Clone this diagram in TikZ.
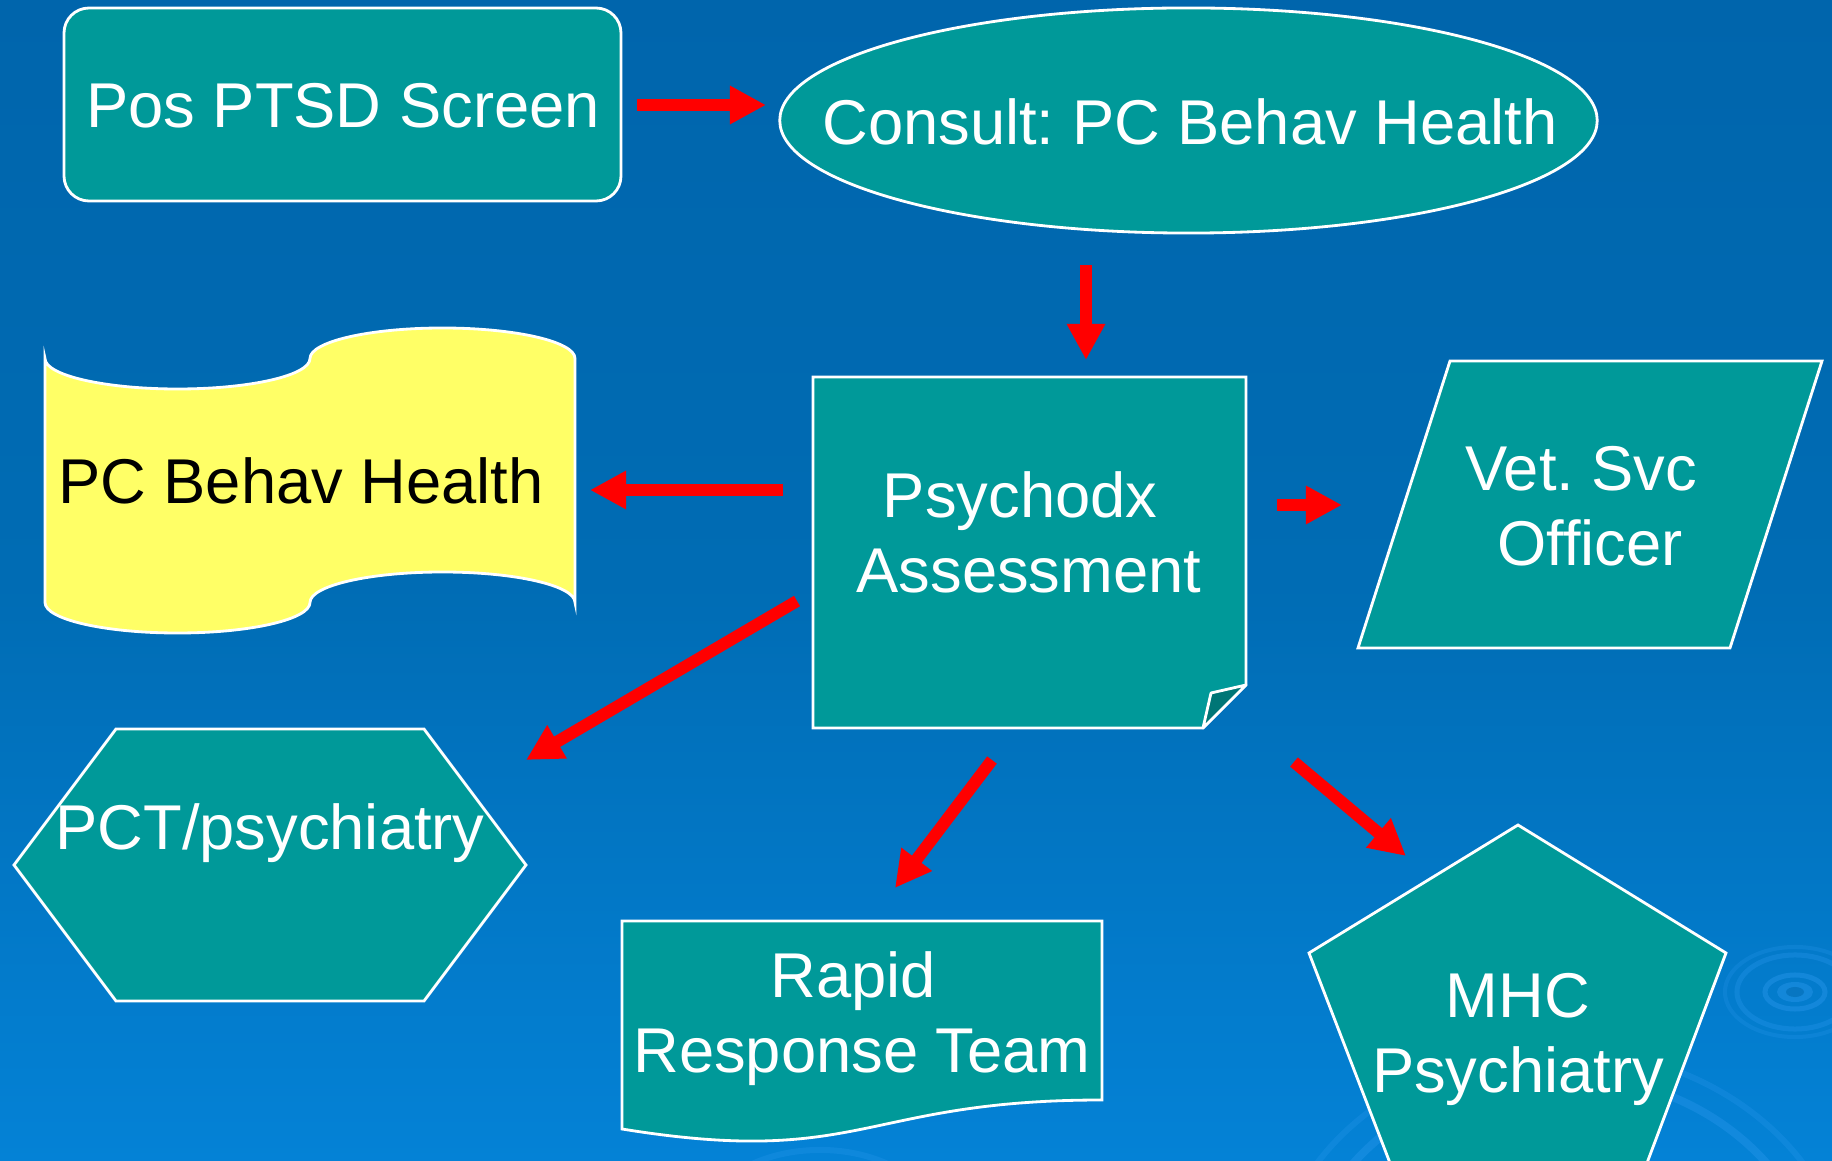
\documentclass[tikz,border=0pt]{standalone}
\usepackage{fontspec}
\setmainfont{Liberation Sans}
\usetikzlibrary{arrows.meta}
\definecolor{bgtop}{RGB}{0,101,172}
\definecolor{bgmid}{RGB}{0,108,180}
\definecolor{bgbot}{RGB}{4,130,214}
\definecolor{tealf}{RGB}{0,153,153}
\definecolor{tealdark}{RGB}{0,118,118}
\definecolor{tapeyellow}{RGB}{255,255,102}
\definecolor{ripple}{RGB}{40,150,235}
\frenchspacing
\begin{document}
\begin{tikzpicture}[x=0.01cm,y=-0.01cm,
  shapebox/.style={draw=white, line width=0.8pt, fill=tealf},
  lbl/.style={text=white, font=\fontsize{18}{21.6}\selectfont\frenchspacing, align=center, inner sep=0pt},
  redarrow/.style={color=red, line width=0.12cm, -{Triangle[length=0.36cm,width=0.36cm]}}
]
\useasboundingbox (0,0) rectangle (1832,1161);
\clip (0,0) rectangle (1832,1161);
% background
\shade[top color=bgtop, bottom color=bgbot, middle color=bgmid] (0,0) rectangle (1832,1161);
% ripples
\fill[ripple, opacity=0.45] (1795,992) ellipse [x radius=0.18cm, y radius=0.10cm];
\fill[bgmid, opacity=0.6] (1795,992) ellipse [x radius=0.09cm, y radius=0.05cm];
\draw[ripple, opacity=0.45, line width=0.05cm] (1795,992) ellipse [x radius=0.30cm, y radius=0.17cm];
\draw[ripple, opacity=0.35, line width=0.05cm] (1795,992) ellipse [x radius=0.58cm, y radius=0.37cm];
\draw[ripple, opacity=0.25, line width=0.04cm] (1795,992) ellipse [x radius=0.70cm, y radius=0.45cm];
\draw[ripple, opacity=0.40, line width=0.08cm] (1560,1300) ellipse [x radius=2.6cm, y radius=2.25cm];
\draw[ripple, opacity=0.30, line width=0.06cm] (1560,1300) ellipse [x radius=2.9cm, y radius=2.5cm];
\draw[ripple, opacity=0.30, line width=0.06cm] (820,1230) ellipse [x radius=1.2cm, y radius=0.8cm];

% shapes
\draw[shapebox, rounded corners=0.25cm] (64,8) rectangle (621,201);
\draw[shapebox] (1188.5,120.5) ellipse [x radius=4.085cm, y radius=1.125cm];
\draw[shapebox] (813,377) -- (1246,377) -- (1246,685) -- (1203,728) -- (813,728) -- cycle;
\draw[draw=white, line width=0.8pt, fill=tealdark, line join=round] (1246,685) -- (1211,693) -- (1203,728) -- cycle;
\draw[draw=white, line width=0.8pt, fill=tapeyellow]
  (45,358.5) .. controls (45,375.3) and (104.3,389) .. (177.5,389)
  .. controls (250.7,389) and (310,375.3) .. (310,358.5)
  .. controls (310,341.7) and (369.3,328) .. (442.5,328)
  .. controls (515.7,328) and (575,341.7) .. (575,358.5)
  -- (575,602.5)
  .. controls (575,585.7) and (515.7,572) .. (442.5,572)
  .. controls (369.3,572) and (310,585.7) .. (310,602.5)
  .. controls (310,619.3) and (250.7,633) .. (177.5,633)
  .. controls (104.3,633) and (45,619.3) .. (45,602.5) -- cycle;
\draw[shapebox] (1450,361) -- (1822,361) -- (1730,648) -- (1358,648) -- cycle;
\draw[shapebox] (14,865) -- (116,729) -- (424,729) -- (526,865) -- (424,1001) -- (116,1001) -- cycle;
\draw[shapebox] (622,921) -- (1102,921) -- (1102,1100) .. controls (862,1100) and (862,1168) .. (622,1129) -- cycle;
\draw[shapebox] (1518,825) -- (1726,953) -- (1647,1163) -- (1390,1163) -- (1309,953) -- cycle;

% labels
\node[lbl] (pos) at (343,112.8) {\strut Pos PTSD Screen\strut};
\node[lbl] (cons) at (1190,129.8) {\strut Consult: PC Behav Health\strut};
\node[lbl, text=black] (pcb) at (301,488.8) {\strut PC Behav Health\strut};
\node[lbl] (psy) at (1029,539.8) {\strut Psychodx\rule{0.278em}{0pt}\\Assessment\strut};
\node[lbl] (vet) at (1590,512.8) {\strut Vet. Svc\rule{0.278em}{0pt}\\Officer\strut};
\node[lbl] (pct) at (270,834.8) {\strut PCT/psychiatry\strut};
\node[lbl] (rrt) at (862,1019.8) {\strut Rapid\rule{0.278em}{0pt}\\Response Team\strut};
\node[lbl] (mhc) at (1518,1039.8) {\strut MHC\\Psychiatry\strut};

% arrow end points
\coordinate (a1s) at (637,105);  \coordinate (a1e) at (766,105);
\coordinate (a2s) at (1086,265); \coordinate (a2e) at (1086,360);
\coordinate (a3s) at (783,490);  \coordinate (a3e) at (590,490);
\coordinate (a4s) at (1277,505); \coordinate (a4e) at (1342,505);
\coordinate (a5s) at (797,601);  \coordinate (a5e) at (526,760);
\coordinate (a6s) at (992,760);  \coordinate (a6e) at (895,888);
\coordinate (a7s) at (1294,762); \coordinate (a7e) at (1406,856);

\draw[redarrow] (a1s) -- (a1e);
\draw[redarrow] (a2s) -- (a2e);
\draw[redarrow] (a3s) -- (a3e);
\draw[redarrow] (a4s) -- (a4e);
\draw[redarrow] (a5s) -- (a5e);
\draw[redarrow] (a6s) -- (a6e);
\draw[redarrow] (a7s) -- (a7e);
\end{tikzpicture}
\end{document}
